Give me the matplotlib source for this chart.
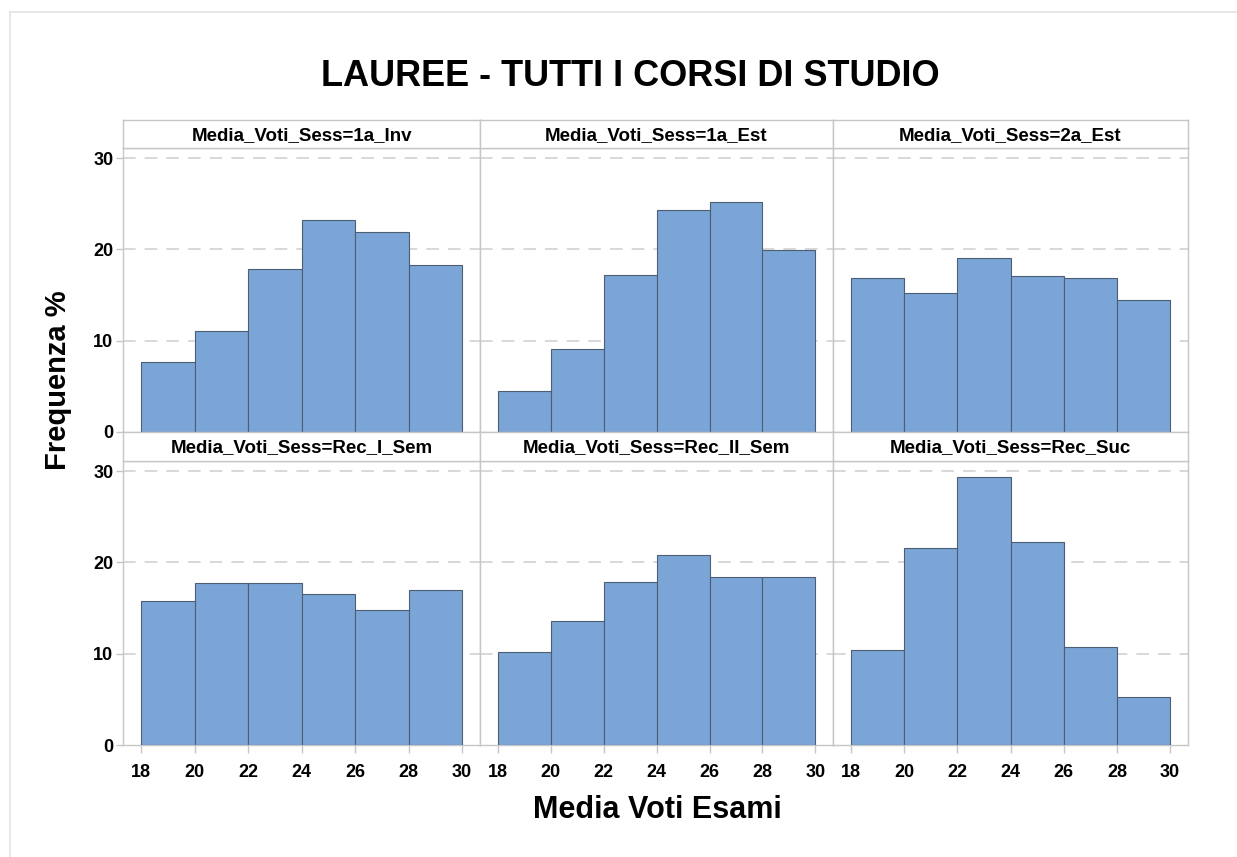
import matplotlib
matplotlib.use('Agg')
import matplotlib.pyplot as plt
from matplotlib.patches import Rectangle
import numpy as np

# bin edges of the histograms (Media Voti Esami)
BIN_EDGES = [18, 20, 22, 24, 26, 28, 30]

PANEL_NAMES = ['1a_Inv', '1a_Est', '2a_Est', 'Rec_I_Sem', 'Rec_II_Sem', 'Rec_Suc']

# frequenza % per bin
FREQ_1A_INV = [7.7, 11.1, 17.8, 23.2, 21.9, 18.3]
FREQ_1A_EST = [4.5, 9.1, 17.2, 24.3, 25.2, 19.9]
FREQ_2A_EST = [16.9, 15.2, 19.1, 17.1, 16.9, 14.5]
FREQ_REC_I_SEM = [15.8, 17.7, 17.7, 16.5, 14.8, 17.0]
FREQ_REC_II_SEM = [10.2, 13.6, 17.9, 20.8, 18.4, 18.4]
FREQ_REC_SUC = [10.4, 21.6, 29.3, 22.2, 10.7, 5.3]

Y_TICKS = [0, 10, 20, 30]
X_TICKS = [18, 20, 22, 24, 26, 28, 30]

W, H = 1237, 857
BAR_COLOR = '#7ba4d7'
EDGE_COLOR = '#4d5d72'
FRAME_COLOR = '#c6c6c6'
GRID_COLOR = '#d6d6d6'

FONT = ['Liberation Sans', 'DejaVu Sans']


def px_box(x0, y0, x1, y1):
    # pixel box (top-left origin) -> figure fraction [l, b, w, h]
    return [x0 / W, 1 - y1 / H, (x1 - x0) / W, (y1 - y0) / H]


def main():
    data = [FREQ_1A_INV, FREQ_1A_EST, FREQ_2A_EST,
            FREQ_REC_I_SEM, FREQ_REC_II_SEM, FREQ_REC_SUC]

    fig = plt.figure(figsize=(W / 100, H / 100), dpi=100)
    fig.patches.append(Rectangle((10 / W, -0.1), 1.2, 1.1 - 12 / H, transform=fig.transFigure,
                                 fill=False, edgecolor='#e3e3e3', lw=1.2))

    cols = [(123, 480), (480, 833), (833, 1188)]
    rows = [(120, 148, 432), (432, 461, 745)]

    for i, vals in enumerate(data):
        r, c = divmod(i, 3)
        x0, x1 = cols[c]
        s0, p0, p1 = rows[r]

        ax = fig.add_axes(px_box(x0, p0, x1, p1))
        ax.bar(BIN_EDGES[:-1], vals, width=np.diff(BIN_EDGES), align='edge',
               color=BAR_COLOR, edgecolor=EDGE_COLOR, linewidth=0.8, zorder=3)
        ax.set_xlim(17.32, 30.67)
        ax.set_ylim(0, 31.1)
        for yv in Y_TICKS[1:]:
            ax.axhline(yv, color=GRID_COLOR, lw=1.3, dashes=(7, 5), zorder=1)
        for sp in ax.spines.values():
            sp.set_color(FRAME_COLOR)
            sp.set_linewidth(1)

        ax.set_yticks(Y_TICKS)
        ax.tick_params(axis='y', length=5, width=1, color=FRAME_COLOR, pad=2,
                       labelleft=(c == 0))
        if c != 0:
            ax.tick_params(axis='y', length=0)
        for lab in ax.get_yticklabels():
            lab.set_fontfamily(FONT)
            lab.set_fontweight('bold')
            lab.set_fontsize(13)

        ax.set_xticks(X_TICKS)
        ax.tick_params(axis='x', length=6, width=1, color=FRAME_COLOR, pad=8,
                       labelbottom=(r == 1))
        if r == 0:
            ax.tick_params(axis='x', length=0)
        for lab in ax.get_xticklabels():
            lab.set_fontfamily(FONT)
            lab.set_fontweight('bold')
            lab.set_fontsize(13)

        # strip header
        st = fig.add_axes(px_box(x0, s0, x1, p0))
        st.set_xticks([])
        st.set_yticks([])
        for sp in st.spines.values():
            sp.set_color(FRAME_COLOR)
            sp.set_linewidth(1)
        st.text(0.5, 0.45, 'Media_Voti_Sess=' + PANEL_NAMES[i], ha='center', va='center',
                fontsize=13.5, fontweight='bold', family=FONT, transform=st.transAxes)

    fig.text(630 / W, 1 - 77 / H, 'LAUREE - TUTTI I CORSI DI STUDIO', ha='center', va='center',
             fontsize=26, fontweight='bold', family=FONT)
    fig.text(657 / W, 1 - 810 / H, 'Media Voti Esami', ha='center', va='center',
             fontsize=22, fontweight='bold', family=FONT)
    fig.text(58 / W, 1 - 380 / H, 'Frequenza %', ha='center', va='center', rotation=90,
             fontsize=21, fontweight='bold', family=FONT)

    fig.savefig('out.png', dpi=100)


if __name__ == '__main__':
    main()
